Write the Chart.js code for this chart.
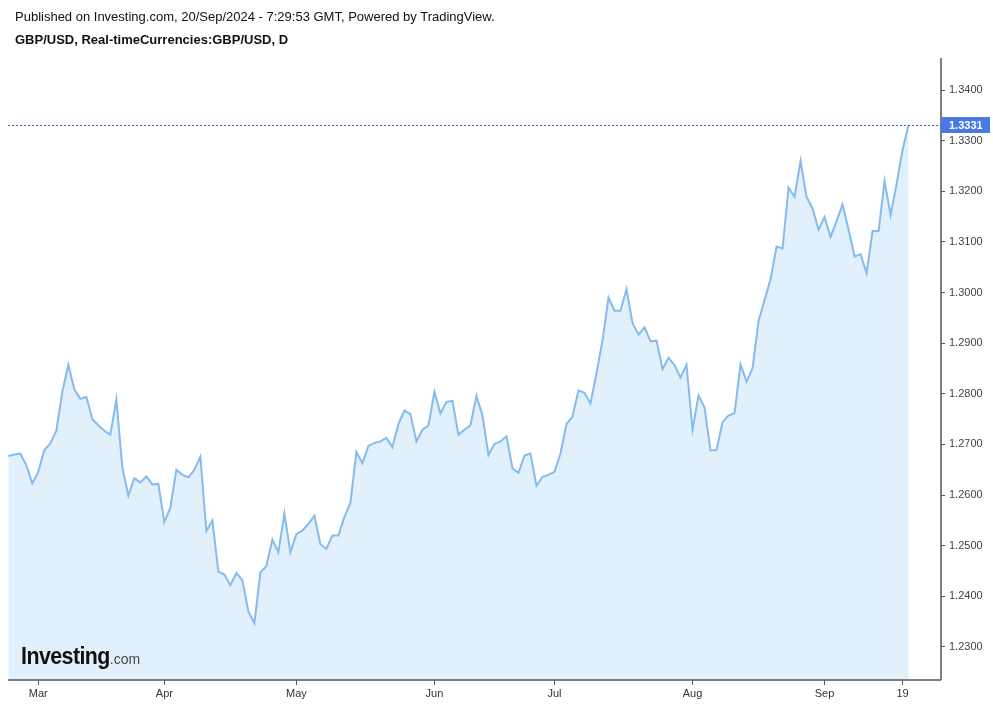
<!DOCTYPE html>
<html>
<head>
<meta charset="utf-8">
<script src="https://cdn.jsdelivr.net/npm/chart.js@4.4.1/dist/chart.umd.min.js"></script>
<style>
  html, body { margin: 0; padding: 0; background: #fff; }
  #wrap { position: relative; width: 993px; height: 704px; overflow: hidden; }
  #chart { position: absolute; left: 0; top: 0; }
  .hdr { position: absolute; left: 15px; font-family: "Liberation Sans", Arial, sans-serif; font-size: 13px; color: #111; white-space: nowrap; }
  #pub { top: 9px; }
  #sym { top: 32px; font-weight: bold; }
  #logo { position: absolute; left: 21px; top: 643px; white-space: nowrap; font-family: "Liberation Sans", Arial, sans-serif;
          transform: scaleX(0.93); transform-origin: left top; }
  #logo b { font-size: 23px; color: #111; letter-spacing: -0.6px; }
  #logo span { font-size: 15px; color: #444; }
</style>
</head>
<body>
<div id="wrap">
  <canvas id="chart" width="993" height="704"></canvas>
  <div class="hdr" id="pub">Published on Investing.com, 20/Sep/2024 - 7:29:53 GMT, Powered by TradingView.</div>
  <div class="hdr" id="sym">GBP/USD, Real-timeCurrencies:GBP/USD, D</div>
  <div id="logo"><b>Investing</b><span>.com</span></div>
</div>
<script>
// daily closes, 23 Feb 2024 .. 20 Sep 2024 (trading days)
const closes = [
  1.2677, 1.2680, 1.2682, 1.2659, 1.2623, 1.2646, 1.2689, 1.2702, 1.2727, 1.2804,
  1.2857, 1.2809, 1.2790, 1.2794, 1.2750, 1.2738, 1.2727, 1.2719, 1.2789, 1.2655,
  1.2599, 1.2633, 1.2625, 1.2637, 1.2621, 1.2622, 1.2547, 1.2575, 1.2650, 1.2640,
  1.2635, 1.2650, 1.2676, 1.2529, 1.2550, 1.2449, 1.2443, 1.2422,
  1.2446, 1.2432, 1.2370, 1.2347, 1.2447, 1.2460, 1.2512, 1.2487, 1.2564, 1.2487,
  1.2523, 1.2530, 1.2543, 1.2559, 1.2503, 1.2494, 1.2520, 1.2520, 1.2557, 1.2585,
  1.2685, 1.2663, 1.2697, 1.2703, 1.2706, 1.2713, 1.2695, 1.2740, 1.2767, 1.2760,
  1.2706, 1.2729, 1.2737, 1.2804, 1.2761, 1.2784, 1.2786, 1.2719,
  1.2729, 1.2738, 1.2796, 1.2757, 1.2679, 1.2701, 1.2706, 1.2716, 1.2653, 1.2644,
  1.2678, 1.2682, 1.2618, 1.2636, 1.2640, 1.2646, 1.2682, 1.2740, 1.2755, 1.2807,
  1.2802, 1.2781, 1.2841, 1.2905, 1.2990, 1.2964, 1.2964, 1.3007, 1.2940, 1.2917,
  1.2931, 1.2904, 1.2905, 1.2849, 1.2871, 1.2857, 1.2832, 1.2857,
  1.2729, 1.2797, 1.2773, 1.2688, 1.2689, 1.2744, 1.2757, 1.2762, 1.2858, 1.2824,
  1.2850, 1.2944, 1.2985, 1.3026, 1.3091, 1.3087, 1.3207, 1.3189, 1.3260, 1.3189,
  1.3166, 1.3124, 1.3149, 1.3110, 1.3141, 1.3174, 1.3124, 1.3071, 1.3076, 1.3038,
  1.3122, 1.3121, 1.3220, 1.3153, 1.3214, 1.3282, 1.3331
];

// bar index of each x-axis label
const xTickIndex = [5, 26, 48, 71, 91, 114, 136, 149];
const xTickLabels = ['Mar', 'Apr', 'May', 'Jun', 'Jul', 'Aug', 'Sep', '19'];

// price axis labels
const yTicks = [1.23, 1.24, 1.25, 1.26, 1.27, 1.28, 1.29, 1.30, 1.31, 1.32, 1.33, 1.34];

const points = closes.map((v, i) => ({ x: i, y: v }));
const lastPrice = closes[closes.length - 1];

// axis lines on top of the fill, dotted line + blue box for the latest price
const overlayPlugin = {
  id: 'overlay',
  afterDraw(chart) {
    const ctx = chart.ctx;
    const area = chart.chartArea;
    ctx.save();
    // axis lines
    ctx.strokeStyle = '#555';
    ctx.lineWidth = 1.5;
    ctx.beginPath();
    ctx.moveTo(area.left, area.bottom);
    ctx.lineTo(area.right, area.bottom);
    ctx.moveTo(area.right, area.top);
    ctx.lineTo(area.right, area.bottom);
    ctx.stroke();

    const y = Math.round(chart.scales.y.getPixelForValue(lastPrice)) + 0.5;
    ctx.strokeStyle = '#3e63c8';
    ctx.lineWidth = 1;
    ctx.setLineDash([2, 2]);
    ctx.beginPath();
    ctx.moveTo(area.left, y);
    ctx.lineTo(area.right, y);
    ctx.stroke();
    ctx.setLineDash([]);
    ctx.fillStyle = '#4a78e6';
    ctx.fillRect(area.right, y - 8.5, 49, 16);
    ctx.fillStyle = '#fff';
    ctx.font = 'bold 11px "Liberation Sans", Arial, sans-serif';
    ctx.textBaseline = 'middle';
    ctx.fillText(lastPrice.toFixed(4), area.right + 8, y);
    ctx.restore();
  }
};

const ctx = document.getElementById('chart').getContext('2d');
new Chart(ctx, {
  type: 'line',
  data: {
    datasets: [{
      label: 'GBP/USD',
      data: points,
      borderColor: '#85bbee',
      backgroundColor: '#e1f0fa',
      borderWidth: 2,
      pointRadius: 0,
      tension: 0,
      fill: 'start'
    }]
  },
  options: {
    responsive: false,
    animation: false,
    events: [],
    layout: { padding: { left: 8, top: 58, right: 0, bottom: 0 } },
    plugins: {
      legend: { display: false },
      tooltip: { enabled: false }
    },
    scales: {
      x: {
        type: 'linear',
        min: -0.05,
        max: 155.4,
        afterBuildTicks: function(scale) {
          scale.ticks = xTickIndex.map(v => ({ value: v }));
        },
        afterFit: function(scale) { scale.height = 24; },
        border: { display: false },
        grid: { drawOnChartArea: false, drawTicks: true, tickLength: 5, color: '#555' },
        ticks: {
          autoSkip: false,
          maxRotation: 0,
          padding: 2,
          color: '#333',
          font: { family: '"Liberation Sans", Arial, sans-serif', size: 11 },
          callback: function(value) {
            const i = xTickIndex.indexOf(value);
            return i >= 0 ? xTickLabels[i] : '';
          }
        }
      },
      y: {
        type: 'linear',
        position: 'right',
        min: 1.22348,
        max: 1.34632,
        afterBuildTicks: function(scale) {
          scale.ticks = yTicks.map(v => ({ value: v }));
        },
        afterFit: function(scale) { scale.width = 52; },
        border: { display: false },
        grid: { drawOnChartArea: false, drawTicks: true, tickLength: 4, color: '#555' },
        ticks: {
          padding: 4,
          color: '#444',
          font: { family: '"Liberation Sans", Arial, sans-serif', size: 11 },
          callback: function(value) { return value.toFixed(4); }
        }
      }
    }
  },
  plugins: [overlayPlugin]
});
</script>
</body>
</html>
